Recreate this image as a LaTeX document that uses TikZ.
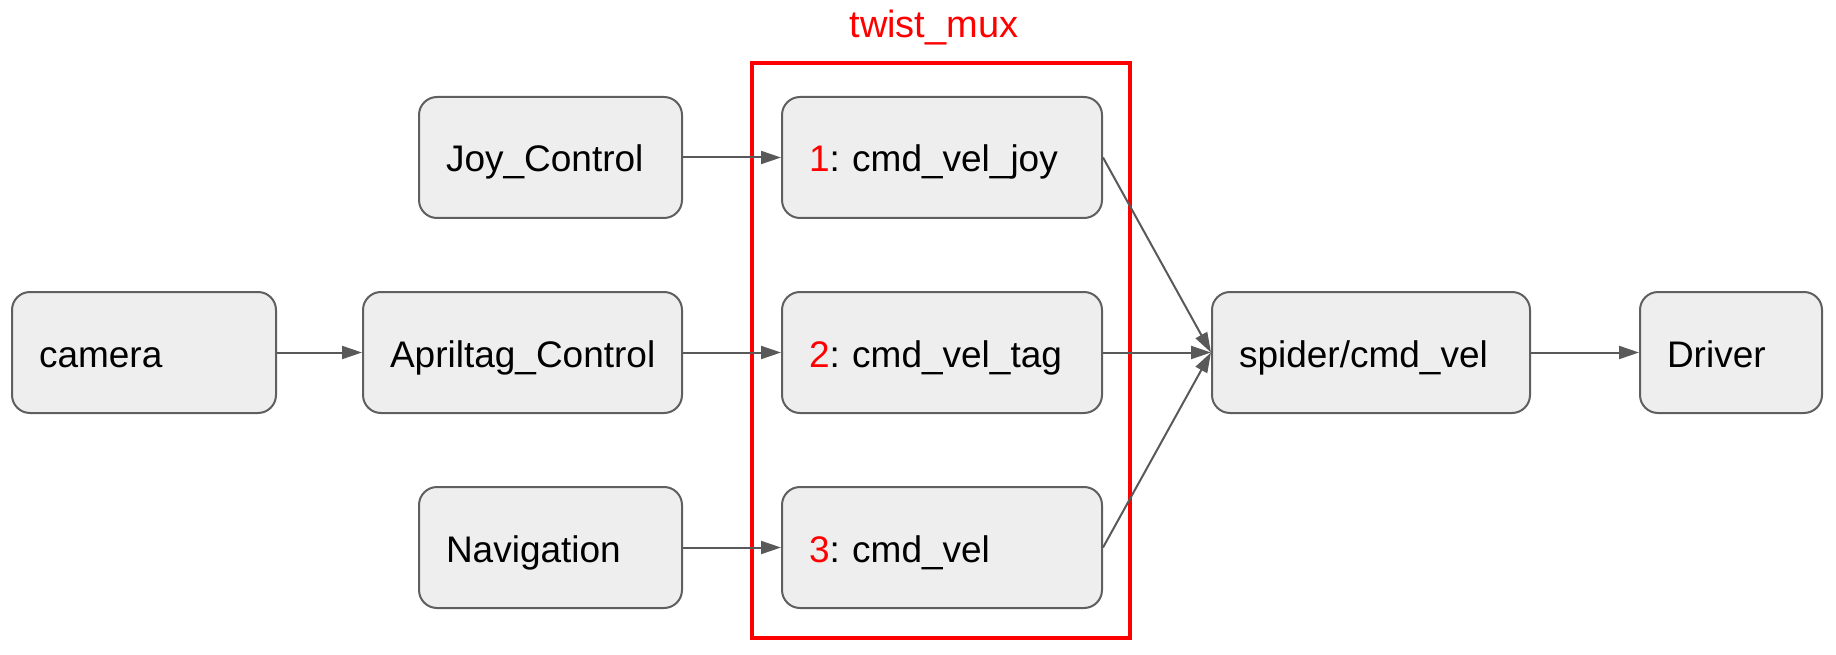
\documentclass[tikz,border=0pt]{standalone}
\usepackage{fontspec}
\setmainfont{Liberation Sans}
\usetikzlibrary{arrows.meta}
\definecolor{boxfill}{HTML}{EEEEEE}
\definecolor{boxline}{HTML}{5F5F5F}
\definecolor{arrowc}{HTML}{595959}
\definecolor{muxred}{HTML}{FF0000}
\tikzset{
  blk/.style={draw=boxline, fill=boxfill, line width=2pt, rounded corners=18pt,
    minimum height=121pt, inner sep=0pt, align=left,
    text height=36pt, text depth=7pt,
    font=\fontsize{37}{44}\selectfont\frenchspacing},
  conn/.style={draw=arrowc, line width=2pt, -{Triangle[length=20pt,width=13pt]}},
  muxbox/.style={draw=muxred, line width=3.3pt, minimum width=378pt, minimum height=575pt, inner sep=0pt},
  muxlabel/.style={text=muxred, inner sep=0pt, anchor=base, font=\fontsize{38}{44}\selectfont}
}
\begin{document}
\begin{tikzpicture}[x=1pt,y=-1pt]
\useasboundingbox (0,0) rectangle (1836,655);
\node[muxbox] (mux) at (941,350.5) {};
\node[muxlabel] (muxl) at (934,38) {twist\_mux};
\node[blk, minimum width=264pt, text width=210pt] (cam) at (144,352.5) {camera};
\node[blk, minimum width=319pt, text width=265pt] (apr) at (522.5,352.5) {Apriltag\_Control};
\node[blk, minimum width=263pt, text width=209pt] (joy) at (550.5,157.5) {Joy\_Control};
\node[blk, minimum width=263pt, text width=209pt] (nav) at (550.5,547.5) {Navigation};
\node[blk, minimum width=320pt, text width=266pt] (j1) at (942,157.5) {{\color{muxred}1}: cmd\_vel\_joy};
\node[blk, minimum width=320pt, text width=266pt] (t2) at (942,352.5) {{\color{muxred}2}: cmd\_vel\_tag};
\node[blk, minimum width=320pt, text width=266pt] (v3) at (942,547.5) {{\color{muxred}3}: cmd\_vel};
\node[blk, minimum width=318pt, text width=264pt] (sp) at (1371,352.5) {spider/cmd\_vel};
\node[blk, minimum width=182pt, text width=128pt] (drv) at (1731,352.5) {Driver};
\draw[conn] (cam.east) -- (apr.west);
\draw[conn] (apr.east) -- (t2.west);
\draw[conn] (joy.east) -- (j1.west);
\draw[conn] (nav.east) -- (v3.west);
\draw[conn] (j1.east) -- (sp.west);
\draw[conn] (t2.east) -- (sp.west);
\draw[conn] (v3.east) -- (sp.west);
\draw[conn] (sp.east) -- (drv.west);
\end{tikzpicture}
\end{document}
